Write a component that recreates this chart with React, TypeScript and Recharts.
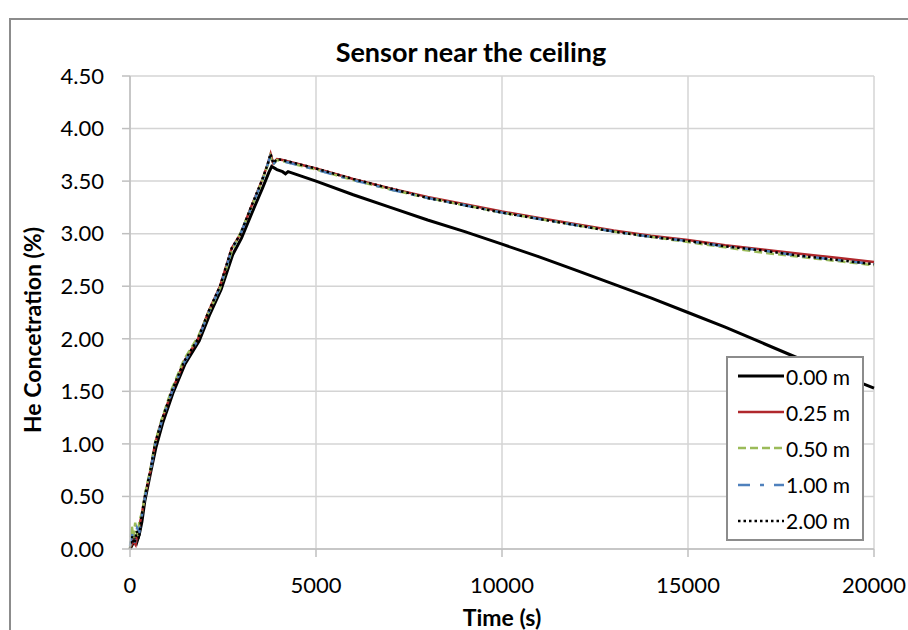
import React from 'react';
import { LineChart, Line, XAxis, YAxis, CartesianGrid, Legend } from 'recharts';

// ---- data ----
const xTicks = [0, 5000, 10000, 15000, 20000];
const yTicks = [0, 0.5, 1, 1.5, 2, 2.5, 3, 3.5, 4, 4.5];
const seriesNames = ['0.00 m', '0.25 m', '0.50 m', '1.00 m', '2.00 m'];

const time000 = [0, 60, 120, 180, 250, 320, 400, 550, 700, 880, 1150, 1480, 1860, 2130, 2450, 2760, 3000, 3280, 3570, 3730, 3810, 3950, 4100, 4180, 4250, 5000, 6000, 7000, 8000, 9000, 10000, 11000, 12000, 13000, 14000, 15000, 16000, 17000, 18000, 19000, 20000];
const conc000 = [0.0, 0.04, 0.1, 0.06, 0.14, 0.26, 0.46, 0.72, 0.97, 1.2, 1.48, 1.76, 1.98, 2.22, 2.47, 2.8, 2.96, 3.2, 3.44, 3.58, 3.64, 3.61, 3.59, 3.57, 3.59, 3.5, 3.37, 3.25, 3.13, 3.02, 2.9, 2.78, 2.65, 2.52, 2.39, 2.25, 2.11, 1.96, 1.81, 1.67, 1.53];

const time025 = [0, 80, 150, 220, 300, 400, 550, 672, 850, 1121, 1450, 1830, 2100, 2420, 2733, 2975, 3250, 3540, 3700, 3780, 3850, 3950, 4100, 5000, 6000, 7000, 8000, 9000, 10000, 11000, 12000, 13000, 14000, 15000, 16000, 17000, 18000, 19000, 20000];
const conc025 = [0, 0.08, 0.04, 0.18, 0.3, 0.5, 0.75, 1.0, 1.22, 1.5, 1.78, 2.0, 2.25, 2.5, 2.86, 3.0, 3.25, 3.5, 3.66, 3.76, 3.67, 3.71, 3.7, 3.62, 3.52, 3.43, 3.35, 3.28, 3.21, 3.15, 3.09, 3.03, 2.98, 2.94, 2.89, 2.85, 2.81, 2.77, 2.73];

const time050 = [0, 50, 90, 140, 200, 260, 330, 400, 550, 672, 850, 1121, 1450, 1830, 2100, 2420, 2733, 2975, 3250, 3540, 3700, 3770, 3850, 3950, 4100, 5000, 6000, 7000, 8000, 9000, 10000, 11000, 12000, 13000, 14000, 15000, 16000, 17000, 18000, 19000, 20000];
const conc050 = [0, 0.22, 0.1, 0.25, 0.12, 0.28, 0.35, 0.52, 0.76, 1.01, 1.23, 1.52, 1.8, 2.02, 2.24, 2.48, 2.83, 3.01, 3.24, 3.49, 3.65, 3.74, 3.66, 3.7, 3.69, 3.61, 3.51, 3.42, 3.34, 3.27, 3.2, 3.14, 3.08, 3.02, 2.97, 2.92, 2.87, 2.82, 2.78, 2.74, 2.7];

const time100 = [0, 70, 130, 190, 250, 320, 400, 550, 672, 850, 1121, 1450, 1830, 2100, 2420, 2733, 2975, 3250, 3540, 3700, 3780, 3850, 3950, 4100, 5000, 6000, 7000, 8000, 9000, 10000, 11000, 12000, 13000, 14000, 15000, 16000, 17000, 18000, 19000, 20000];
const conc100 = [0.03, 0.15, 0.06, 0.2, 0.16, 0.32, 0.49, 0.74, 0.99, 1.21, 1.49, 1.77, 1.99, 2.24, 2.49, 2.85, 3.0, 3.24, 3.49, 3.66, 3.75, 3.66, 3.7, 3.69, 3.61, 3.51, 3.42, 3.34, 3.27, 3.2, 3.14, 3.08, 3.02, 2.97, 2.93, 2.88, 2.84, 2.79, 2.75, 2.71];

const time200 = [0, 60, 120, 180, 240, 300, 400, 550, 672, 850, 1121, 1450, 1830, 2100, 2420, 2733, 2975, 3250, 3540, 3700, 3780, 3850, 3950, 4100, 5000, 6000, 7000, 8000, 9000, 10000, 11000, 12000, 13000, 14000, 15000, 16000, 17000, 18000, 19000, 20000];
const conc200 = [0, 0.12, 0.05, 0.17, 0.1, 0.28, 0.5, 0.75, 1.0, 1.22, 1.5, 1.78, 2.0, 2.25, 2.5, 2.86, 3.0, 3.25, 3.5, 3.66, 3.76, 3.67, 3.71, 3.7, 3.62, 3.52, 3.43, 3.34, 3.27, 3.2, 3.14, 3.08, 3.02, 2.97, 2.93, 2.88, 2.84, 2.79, 2.75, 2.71];

// ---- build ----
const toPoints = (t: number[], v: number[]) => t.map((x, i) => ({ t: x, v: v[i] }));
const seriesData = [
  toPoints(time000, conc000),
  toPoints(time025, conc025),
  toPoints(time050, conc050),
  toPoints(time100, conc100),
  toPoints(time200, conc200),
];

const lineStyles = [
  { color: '#000000', width: 3, dash: undefined as string | undefined },
  { color: '#B0282C', width: 2.5, dash: undefined as string | undefined },
  { color: '#9BBB59', width: 2.5, dash: '8 4' },
  { color: '#4F81BD', width: 2.5, dash: '12 10 4 10' },
  { color: '#000000', width: 2.5, dash: '2.5 3' },
];

const FONT = 'Lato, "Open Sans", sans-serif';

const renderLegend = () => (
  <div
    style={{
      width: 138,
      height: 185,
      boxSizing: 'border-box',
      border: '2px solid #8c8c8c',
      background: '#fff',
      fontFamily: FONT,
      fontSize: 21,
      color: '#000',
    }}
  >
    {seriesNames.map((name, i) => {
      const s = lineStyles[i];
      return (
        <div key={name} style={{ height: 36.2, display: 'flex', alignItems: 'center' }}>
          <svg width={46} height={8} style={{ marginLeft: 10, display: 'block' }}>
            <line x1={0} y1={4} x2={46} y2={4} stroke={s.color} strokeWidth={s.width} strokeDasharray={s.dash} />
          </svg>
          <span style={{ marginLeft: 2, lineHeight: '21px' }}>{name}</span>
        </div>
      );
    })}
  </div>
);

export default function App() {
  return (
    <div style={{ position: 'absolute', left: 0, top: 0, width: 908, height: 630, overflow: 'hidden', background: '#fff' }}>
      <div
        style={{
          position: 'absolute',
          left: 9,
          top: 18,
          width: 1000,
          height: 800,
          borderLeft: '2px solid #8c8c8c',
          borderTop: '2px solid #8c8c8c',
        }}
      />
      <div style={{ position: 'absolute', left: 0, top: 0 }}>
        <LineChart width={908} height={630} margin={{ top: 76, right: 34, bottom: 0, left: 0 }}>
          <CartesianGrid stroke="#d4d4d4" strokeWidth={1.5} />
          <XAxis
            type="number"
            dataKey="t"
            domain={[0, 20000]}
            ticks={xTicks}
            allowDuplicatedCategory={false}
            height={81}
            tickSize={8}
            tickMargin={20}
            stroke="#bfbfbf"
            strokeWidth={1.5}
            tick={{ fill: '#000', fontSize: 22, fontFamily: FONT }}
            interval={0}
          />
          <YAxis
            type="number"
            domain={[0, 4.5]}
            ticks={yTicks}
            width={130}
            tickSize={8}
            tickMargin={18}
            stroke="#bfbfbf"
            strokeWidth={1.5}
            tick={{ fill: '#000', fontSize: 22, fontFamily: FONT }}
            tickFormatter={(v: number) => v.toFixed(2)}
            interval={0}
          />
          {seriesData.map((d, i) => (
            <Line
              key={seriesNames[i]}
              data={d}
              dataKey="v"
              name={seriesNames[i]}
              type="linear"
              stroke={lineStyles[i].color}
              strokeWidth={lineStyles[i].width}
              strokeDasharray={lineStyles[i].dash}
              dot={false}
              activeDot={false}
              isAnimationActive={false}
            />
          ))}
          <Legend
            layout="vertical"
            align="center"
            verticalAlign="middle"
            content={renderLegend}
            wrapperStyle={{ position: 'absolute', left: 726, top: 356, width: 138, height: 185 }}
          />
        </LineChart>
      </div>
      <svg width={908} height={630} style={{ position: 'absolute', left: 0, top: 0, pointerEvents: 'none' }}>
        <text x={471} y={62} textAnchor="middle" fontFamily={FONT} fontWeight="bold" fontSize={27} fill="#000">
          Sensor near the ceiling
        </text>
        <text x={502} y={626} textAnchor="middle" fontFamily={FONT} fontWeight="bold" fontSize={23} fill="#000">
          Time (s)
        </text>
        <text
          x={41}
          y={330}
          textAnchor="middle"
          fontFamily={FONT}
          fontWeight="bold"
          fontSize={23}
          fill="#000"
          transform="rotate(-90 41 330)"
        >
          He Concetration (%)
        </text>
      </svg>
    </div>
  );
}
